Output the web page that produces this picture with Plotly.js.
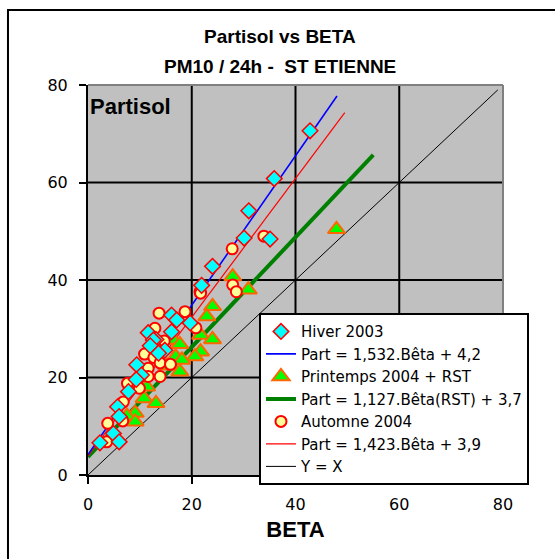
<!DOCTYPE html>
<html>
<head>
<meta charset="utf-8">
<script src="https://cdn.plot.ly/plotly-3.0.1.min.js"></script>
<style>html,body{margin:0;padding:0;background:#fff;}#chart{width:555px;height:559px;}</style>
</head>
<body>
<div id="chart"></div>
<script>
// ---- Data ----
var hiverBeta = [42.8, 35.9, 31.0, 30.1, 35.1, 24.0, 21.9, 16.1, 17.1, 19.7, 11.6, 16.1, 13.1, 12.6, 12.0, 14.8, 13.6, 9.4, 10.3, 9.3, 7.8, 5.7, 6.0, 4.9, 6.0, 2.3];
var hiverPart = [70.6, 60.8, 54.2, 48.6, 48.4, 42.8, 38.9, 32.8, 31.8, 31.2, 29.2, 29.4, 27.8, 27.7, 26.5, 25.6, 25.0, 22.6, 20.5, 19.6, 17.1, 14.0, 12.0, 8.5, 6.8, 6.6];

var printBeta = [47.9, 27.9, 30.9, 24.0, 22.9, 21.7, 24.0, 16.4, 17.7, 21.7, 16.9, 20.6, 18.1, 15.2, 17.7, 11.3, 10.8, 13.1, 9.1, 7.5, 9.1];
var printPart = [50.4, 40.7, 38.0, 34.6, 32.5, 28.7, 27.8, 27.7, 26.8, 25.3, 24.3, 24.3, 23.6, 22.4, 21.2, 18.1, 15.7, 14.7, 12.7, 12.1, 10.9];

var autoBeta = [33.9, 27.8, 21.6, 27.9, 28.6, 21.7, 13.7, 18.7, 20.8, 12.9, 14.7, 10.9, 12.7, 13.9, 11.6, 15.9, 11.6, 13.9, 7.6, 9.9, 6.8, 6.7, 3.8, 3.6];
var autoPart = [49.0, 46.4, 37.6, 39.0, 37.6, 37.3, 33.2, 33.5, 30.2, 30.1, 27.5, 24.8, 24.1, 23.0, 21.9, 22.7, 20.2, 20.2, 18.8, 17.8, 15.0, 11.1, 10.6, 6.8];

// trendlines: slope, intercept (from legend) and beta extent
var trendNames = ["Part = 1,532.Bêta + 4,2", "Part = 1,127.Bêta(RST) + 3,7", "Part = 1,423.Bêta + 3,9", "Y = X"];
var trendSlope = [1.532, 1.127, 1.423, 1];
var trendIntercept = [4.2, 3.7, 3.9, 0];
var trendXmin = [0, 0, 0, 0];
var trendXmax = [48, 55, 49.5, 79];

var axisTicks = [0, 20, 40, 60, 80];
var gridVals = [20, 40, 60];

// ---- build traces ----
function line(i, color, width, rank) {
  var xs = [trendXmin[i], trendXmax[i]];
  return {
    x: xs, y: xs.map(function (v) { return trendSlope[i] * v + trendIntercept[i]; }),
    mode: 'lines', name: trendNames[i], legendrank: rank,
    line: { color: color, width: width }, hoverinfo: 'skip'
  };
}
var traces = [
  line(3, '#000000', 1, 7),
  line(1, '#008000', 4, 4),
  line(2, '#FF0000', 1.2, 6),
  line(0, '#0000FF', 1.6, 2),
  { x: printBeta, y: printPart, mode: 'markers', name: 'Printemps 2004 + RST', legendrank: 3,
    marker: { symbol: 'triangle-up', size: 15, color: '#00FF00', line: { color: '#FF6600', width: 2 } } },
  { x: autoBeta, y: autoPart, mode: 'markers', name: 'Automne 2004', legendrank: 5,
    marker: { symbol: 'circle', size: 11, color: '#FFFF99', line: { color: '#FF0000', width: 2 } } },
  { x: hiverBeta, y: hiverPart, mode: 'markers', name: 'Hiver 2003', legendrank: 1,
    marker: { symbol: 'diamond', size: 12, color: '#00FFFF', line: { color: '#FF0000', width: 1.5 } } }
];

var fontFam = 'Liberation Sans, Arial, sans-serif';
var textFam = 'DejaVu Sans, Verdana, sans-serif';
var shapes = [];
gridVals.forEach(function (v) {
  shapes.push({ type: 'line', xref: 'x', yref: 'paper', x0: v, x1: v, y0: 0, y1: 1, line: { color: '#000', width: 2 }, layer: 'below' });
  shapes.push({ type: 'line', xref: 'paper', yref: 'y', x0: 0, x1: 1, y0: v, y1: v, line: { color: '#000', width: 2 }, layer: 'below' });
});
// plot-area border (top and right)
shapes.push({ type: 'line', xref: 'paper', yref: 'paper', x0: 0, x1: 1, y0: 1, y1: 1, line: { color: '#808080', width: 2 } });
shapes.push({ type: 'line', xref: 'paper', yref: 'paper', x0: 1, x1: 1, y0: 0, y1: 1, line: { color: '#808080', width: 2 } });
// chart frame
shapes.push({ type: 'rect', xref: 'paper', yref: 'paper', x0: -0.1928, x1: 1.2, y0: -0.3, y1: 1.1923, line: { color: '#000', width: 2 } });

var layout = {
  width: 555, height: 559,
  margin: { l: 88, r: 52, t: 85, b: 84 },
  paper_bgcolor: '#FFFFFF', plot_bgcolor: '#C0C0C0',
  font: { family: textFam, size: 16, color: '#000' },
  showlegend: true,
  legend: { x: 0.412, y: 0.415, xanchor: 'left', yanchor: 'top', bgcolor: '#FFFFFF', bordercolor: '#000', borderwidth: 2,
            font: { family: textFam, size: 15, color: '#000' }, tracegroupgap: 0, entrywidth: 244, entrywidthmode: 'pixels' },
  xaxis: { range: [0, 80], tickvals: axisTicks, ticktext: axisTicks.map(String), showgrid: false, zeroline: false,
           showline: true, linecolor: '#000', linewidth: 2, ticks: 'outside', ticklen: 7, tickwidth: 2, tickcolor: '#000',
           tickfont: { family: textFam, size: 16 }, fixedrange: true, ticklabelstandoff: 7,
           title: { text: '<b>BETA</b>', font: { family: fontFam, size: 22 }, standoff: 8 } },
  yaxis: { range: [0, 80], tickvals: axisTicks, ticktext: axisTicks.map(String), showgrid: false, zeroline: false,
           showline: true, linecolor: '#000', linewidth: 2, ticks: 'outside', ticklen: 7, tickwidth: 2, tickcolor: '#000',
           tickfont: { family: textFam, size: 16 }, fixedrange: true, ticklabelstandoff: 8 },
  shapes: shapes,
  annotations: [
    { text: '<b>Partisol vs BETA</b>', xref: 'paper', yref: 'paper', x: 0.4627, y: 1.1231, showarrow: false,
      xanchor: 'center', yanchor: 'middle', font: { family: fontFam, size: 19 } },
    { text: '<b>PM10 / 24h -&nbsp; ST ETIENNE</b>', xref: 'paper', yref: 'paper', x: 0.4627, y: 1.0462, showarrow: false,
      xanchor: 'center', yanchor: 'middle', font: { family: fontFam, size: 19 } },
    { text: '<b>Partisol</b>', xref: 'paper', yref: 'paper', x: 0.0, y: 0.9436, showarrow: false,
      xanchor: 'left', yanchor: 'middle', font: { family: fontFam, size: 22 } }
  ]
};

Plotly.newPlot('chart', traces, layout, { displayModeBar: false, staticPlot: true });
</script>
</body>
</html>
